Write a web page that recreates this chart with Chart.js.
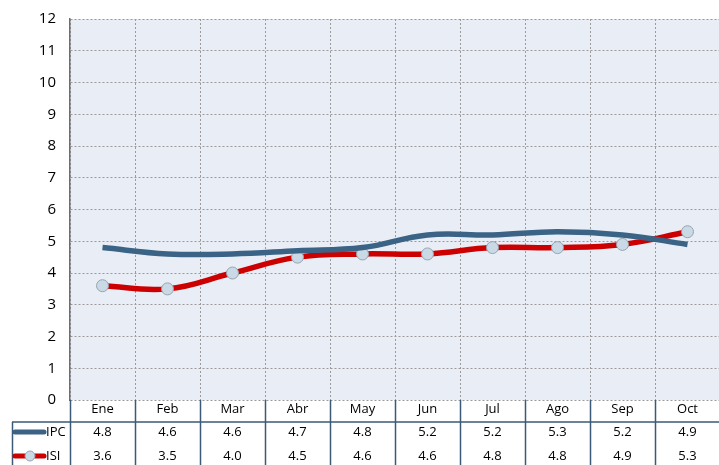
<!DOCTYPE html>
<html>
<head>
<meta charset="utf-8">
<script src="https://cdn.jsdelivr.net/npm/chart.js@4.4.1/dist/chart.umd.min.js"></script>
<style>
  html, body { margin: 0; padding: 0; background: #fff; overflow: hidden; }
  #wrap { width: 727px; height: 469px; position: relative; top: -4px; }
</style>
</head>
<body>
<div id="wrap"><canvas id="chart"></canvas></div>
<script>
const months = ["Ene", "Feb", "Mar", "Abr", "May", "Jun", "Jul", "Ago", "Sep", "Oct"];
const ipcValues = [4.8, 4.6, 4.6, 4.7, 4.8, 5.2, 5.2, 5.3, 5.2, 4.9];
const isiValues = [3.6, 3.5, 4.0, 4.5, 4.6, 4.6, 4.8, 4.8, 4.9, 5.3];
const yTicks = [0, 1, 2, 3, 4, 5, 6, 7, 8, 9, 10, 11, 12];

const ipcColor = "#3a6386";
const isiColor = "#cc0000";
const tableLine = "#3b5a78";
const fontName = "'Open Sans', 'Noto Sans', sans-serif";

// plot background + data table under the chart
const tablePlugin = {
    id: "tablePlugin",
    beforeDraw(chart) {
        const { ctx, chartArea: a } = chart;
        ctx.save();
        ctx.fillStyle = "#e9eef6";
        ctx.fillRect(a.left, a.top, a.right - a.left, a.bottom - a.top);
        ctx.restore();
    },
    afterDraw(chart) {
        const { ctx, chartArea: a } = chart;
        const x = chart.scales.x;
        const w = (a.right - a.left) / months.length;
        const top = a.bottom;
        const headMid = top + 9;
        const sep = top + 22;
        const row1 = top + 32;
        const row2 = top + 56;
        const bottom = chart.height;

        ctx.save();
        ctx.strokeStyle = tableLine;
        ctx.lineWidth = 1.5;
        ctx.beginPath();
        // vertical separators
        for (let i = 0; i <= months.length; i++) {
            const px = Math.round(a.left + i * w) + 0.5;
            ctx.moveTo(px, top);
            ctx.lineTo(px, bottom);
        }
        // header separator
        ctx.moveTo(12, sep);
        ctx.lineTo(a.right, sep);
        // left border
        ctx.moveTo(12.5, sep);
        ctx.lineTo(12.5, bottom);
        ctx.stroke();

        ctx.fillStyle = "#000";
        ctx.font = "13px " + fontName;
        ctx.textAlign = "center";
        ctx.textBaseline = "middle";
        months.forEach((m, i) => {
            const cx = x.getPixelForValue(i);
            ctx.fillText(m, cx, headMid);
            ctx.fillText(ipcValues[i].toFixed(1), cx, row1);
            ctx.fillText(isiValues[i].toFixed(1), cx, row2);
        });

        // legend keys
        ctx.lineCap = "round";
        ctx.lineWidth = 5;
        ctx.strokeStyle = ipcColor;
        ctx.beginPath();
        ctx.moveTo(15, row1);
        ctx.lineTo(44, row1);
        ctx.stroke();
        ctx.strokeStyle = isiColor;
        ctx.beginPath();
        ctx.moveTo(15, row2);
        ctx.lineTo(44, row2);
        ctx.stroke();
        ctx.fillStyle = "#c9d9e6";
        ctx.strokeStyle = "#98a4b0";
        ctx.lineWidth = 1;
        ctx.beginPath();
        ctx.arc(30, row2, 5, 0, Math.PI * 2);
        ctx.fill();
        ctx.stroke();

        ctx.fillStyle = "#000";
        ctx.textAlign = "left";
        ctx.fillText("IPC", 46, row1);
        ctx.fillText("ISI", 46, row2);
        ctx.restore();
    }
};

new Chart(document.getElementById("chart"), {
    type: "line",
    data: {
        labels: months,
        datasets: [
            {
                label: "IPC",
                data: ipcValues,
                borderColor: ipcColor,
                borderWidth: 5.5,
                pointRadius: 0,
                tension: 0.4,
                fill: false
            },
            {
                label: "ISI",
                data: isiValues,
                borderColor: isiColor,
                borderWidth: 5.5,
                pointRadius: 6,
                pointBackgroundColor: "#c9d9e6",
                pointBorderColor: "#98a4b0",
                pointBorderWidth: 1,
                tension: 0.4,
                fill: false
            }
        ]
    },
    options: {
        responsive: true,
        maintainAspectRatio: false,
        animation: false,
        layout: { padding: { top: 6, right: 0, bottom: 65, left: 0 } },
        plugins: {
            legend: { display: false },
            tooltip: { enabled: false }
        },
        scales: {
            x: {
                offset: true,
                ticks: { display: false },
                grid: {
                    offset: true,
                    color: "#9a9a9a",
                    lineWidth: 1,
                    drawTicks: false
                },
                border: { display: false, dash: [2, 2] }
            },
            y: {
                min: 0,
                max: 12,
                afterBuildTicks(scale) {
                    scale.ticks = yTicks.map(v => ({ value: v }));
                },
                afterFit(scale) { scale.width = 70; },
                ticks: {
                    color: "#000",
                    font: { family: fontName, size: 15 },
                    padding: 14
                },
                grid: {
                    color: "#9a9a9a",
                    lineWidth: 1,
                    drawTicks: false
                },
                border: { display: true, color: "#6e6e6e", width: 1.5, dash: [2, 2] }
            }
        }
    },
    plugins: [tablePlugin]
});
</script>
</body>
</html>
